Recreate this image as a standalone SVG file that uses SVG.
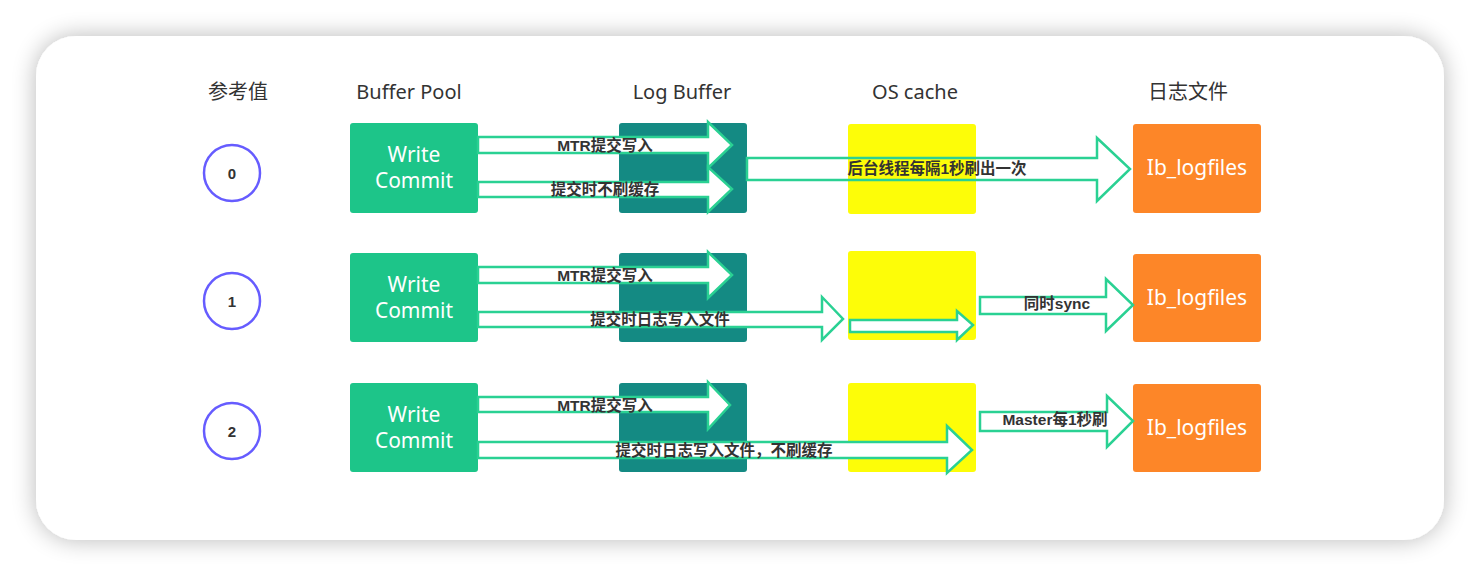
<svg xmlns="http://www.w3.org/2000/svg" width="1480" height="576" viewBox="0 0 1480 576">
<defs>
<filter id="sh" x="-10%" y="-20%" width="120%" height="140%">
<feGaussianBlur in="SourceAlpha" stdDeviation="12"/>
<feComponentTransfer><feFuncA type="linear" slope="0.28"/></feComponentTransfer>
<feMerge><feMergeNode/><feMergeNode in="SourceGraphic"/></feMerge>
</filter>
<style>
.hdr{font-family:"Noto Sans","Noto Sans CJK SC",sans-serif;font-size:20px;fill:#333;text-anchor:middle}
.wc{fill:#1dc589}
.lb{fill:#148a83}
.os{fill:#fdfd08}
.ib{fill:#fd8628}
.boxt{font-family:"Noto Sans","Noto Sans CJK SC",sans-serif;font-size:21px;fill:#ffffff;text-anchor:middle}
.circ{fill:#fff;stroke:#665cff;stroke-width:2.5}
.num{font-family:"Liberation Sans",sans-serif;font-weight:bold;font-size:15px;fill:#333;text-anchor:middle}
.arr{fill:#fff;stroke:#2ad193;stroke-width:2.5;stroke-linejoin:miter}
.arrn{fill:none;stroke:#2ad193;stroke-width:2.5}
.lab{font-family:"Liberation Sans","Noto Sans CJK SC",sans-serif;font-weight:bold;font-size:15.5px;fill:#333;text-anchor:middle}
</style>
</defs>
<rect x="0" y="0" width="1480" height="576" fill="#ffffff"/>
<rect x="36" y="36" width="1408" height="504" rx="40" fill="#ffffff" filter="url(#sh)"/>

<g id="headers">
<text class="hdr" x="238" y="99">参考值</text>
<text class="hdr" x="409" y="99">Buffer Pool</text>
<text class="hdr" x="682" y="99">Log Buffer</text>
<text class="hdr" x="915" y="99">OS cache</text>
<text class="hdr" x="1188" y="99">日志文件</text>
</g>

<g id="val0"><circle class="circ" cx="232" cy="173" r="28"/><text class="num" x="232" y="179">0</text></g>
<g id="val1"><circle class="circ" cx="232" cy="301" r="28"/><text class="num" x="232" y="307">1</text></g>
<g id="val2"><circle class="circ" cx="232" cy="431" r="28"/><text class="num" x="232" y="437">2</text></g>

<g id="bp0"><rect class="wc" x="350" y="123" width="128" height="90" rx="3"/><text class="boxt" x="414" y="162">Write</text><text class="boxt" x="414" y="188">Commit</text></g>
<g id="bp1"><rect class="wc" x="350" y="253" width="128" height="89" rx="3"/><text class="boxt" x="414" y="292">Write</text><text class="boxt" x="414" y="318">Commit</text></g>
<g id="bp2"><rect class="wc" x="350" y="383" width="128" height="89" rx="3"/><text class="boxt" x="414" y="422">Write</text><text class="boxt" x="414" y="448">Commit</text></g>

<g id="lb0"><rect class="lb" x="619" y="123" width="128" height="90" rx="3"/></g>
<g id="lb1"><rect class="lb" x="619" y="253" width="128" height="89" rx="3"/></g>
<g id="lb2"><rect class="lb" x="619" y="383" width="128" height="89" rx="3"/></g>

<g id="os0"><rect class="os" x="848" y="124" width="128" height="90" rx="3"/></g>
<g id="os1"><rect class="os" x="848" y="251" width="128" height="89" rx="3"/></g>
<g id="os2"><rect class="os" x="848" y="383" width="128" height="89" rx="3"/></g>

<g id="ib0"><rect class="ib" x="1133" y="124" width="128" height="89" rx="3"/><text class="boxt" x="1197" y="175">Ib_logfiles</text></g>
<g id="ib1"><rect class="ib" x="1133" y="254" width="128" height="88" rx="3"/><text class="boxt" x="1197" y="305">Ib_logfiles</text></g>
<g id="ib2"><rect class="ib" x="1133" y="384" width="128" height="88" rx="3"/><text class="boxt" x="1197" y="435">Ib_logfiles</text></g>

<g id="connectors">
<polygon class="arr" points="478,137 708,137 708,122 732,145 708,168 708,153 478,153"/>
<polygon class="arr" points="478,182 708,182 708,167 732,189 708,212 708,197 478,197"/>
<polygon class="arrn" points="747,158 1097,158 1097,138 1130,169 1097,201 1097,180 747,180"/>
<polygon class="arr" points="478,267 708,267 708,252 732,275 708,298 708,283 478,283"/>
<polygon class="arr" points="478,312 822,312 822,297 843,319 822,340 822,327 478,327"/>
<polygon class="arr" points="850,320 957,320 957,311 973,325 957,340 957,332 850,332"/>
<polygon class="arr" points="980,297 1106,297 1106,279 1133,305 1106,331 1106,314 980,314"/>
<polygon class="arr" points="478,397 708,397 708,382 730,405 708,429 708,412 478,412"/>
<polygon class="arr" points="478,442 947,442 947,426 972,450 947,473 947,458 478,458"/>
<polygon class="arr" points="980,412 1107,412 1107,396 1133,421 1107,447 1107,431 980,431"/>
</g>

<g id="labels">
<text class="lab" x="605" y="151">MTR提交写入</text>
<text class="lab" x="605" y="195">提交时不刷缓存</text>
<text class="lab" x="937" y="174">后台线程每隔1秒刷出一次</text>
<text class="lab" x="605" y="281">MTR提交写入</text>
<text class="lab" x="660" y="325">提交时日志写入文件</text>
<text class="lab" x="1057" y="309">同时sync</text>
<text class="lab" x="605" y="411">MTR提交写入</text>
<text class="lab" x="724" y="456">提交时日志写入文件，不刷缓存</text>
<text class="lab" x="1055" y="425">Master每1秒刷</text>
</g>
</svg>
